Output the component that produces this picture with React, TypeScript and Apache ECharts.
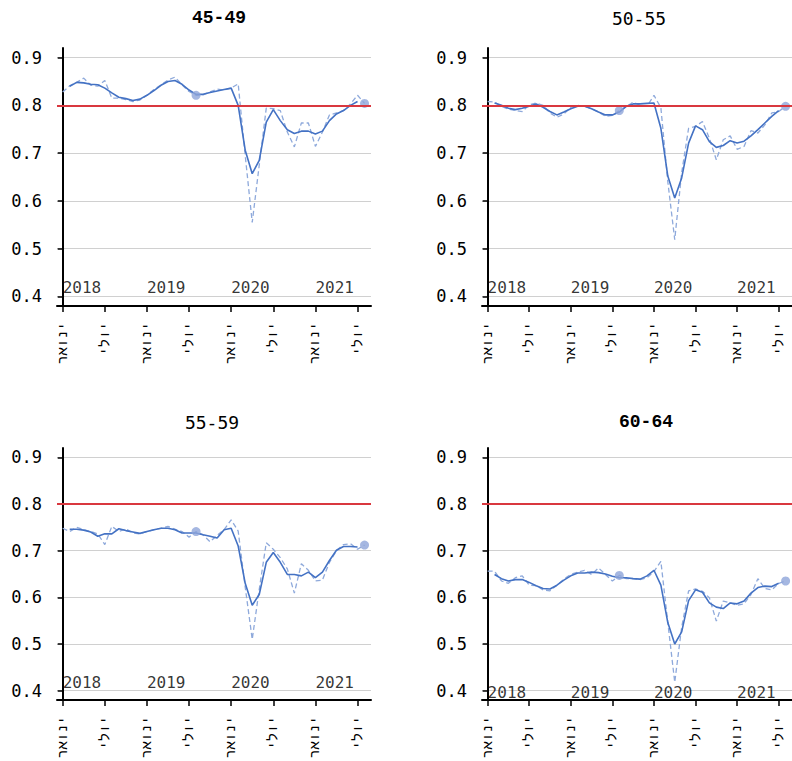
import React, { useEffect, useRef } from 'react';
import * as echarts from 'echarts';

// Months indexed from January 2018 (0) to August 2021 (43)
const years = ['2018', '2019', '2020', '2021'];
const tickMonths = [0, 6, 12, 18, 24, 30, 36, 42];
const yTicks = [0.4, 0.5, 0.6, 0.7, 0.8, 0.9];
const markerMonths = [19, 43];
const targetRate = 0.8;
const panelTitles = ['45-49', '50-55', '55-59', '60-64'];

// Monthly rate (dashed)
const raw4549 = [0.828, 0.841, 0.848, 0.857, 0.842, 0.840, 0.852, 0.815, 0.815, 0.812,
  0.808, 0.811, 0.821, 0.833, 0.843, 0.853, 0.859, 0.843, 0.829, 0.821,
  0.822, 0.828, 0.834, 0.832, 0.836, 0.845, 0.695, 0.555, 0.675, 0.794,
  0.793, 0.789, 0.744, 0.713, 0.763, 0.763, 0.714, 0.744, 0.780, 0.784,
  0.789, 0.803, 0.821, 0.804];
const raw5055 = [0.808, 0.807, 0.798, 0.792, 0.789, 0.787, 0.801, 0.805, 0.800, 0.784,
  0.775, 0.782, 0.796, 0.800, 0.798, 0.793, 0.786, 0.777, 0.779, 0.789,
  0.797, 0.807, 0.800, 0.798, 0.821, 0.795, 0.640, 0.519, 0.659, 0.752,
  0.756, 0.766, 0.731, 0.686, 0.728, 0.736, 0.708, 0.714, 0.747, 0.742,
  0.759, 0.784, 0.787, 0.798];
const raw5559 = [0.748, 0.741, 0.750, 0.745, 0.741, 0.736, 0.713, 0.752, 0.741, 0.747,
  0.738, 0.736, 0.741, 0.745, 0.748, 0.752, 0.746, 0.741, 0.729, 0.741,
  0.734, 0.719, 0.733, 0.745, 0.766, 0.742, 0.622, 0.510, 0.617, 0.717,
  0.703, 0.685, 0.661, 0.609, 0.672, 0.658, 0.635, 0.637, 0.675, 0.700,
  0.713, 0.715, 0.703, 0.712];
const raw6064 = [0.656, 0.656, 0.635, 0.630, 0.642, 0.646, 0.626, 0.625, 0.616, 0.614,
  0.626, 0.639, 0.649, 0.654, 0.658, 0.649, 0.663, 0.649, 0.635, 0.647,
  0.640, 0.640, 0.638, 0.642, 0.655, 0.677, 0.546, 0.418, 0.536, 0.614,
  0.618, 0.613, 0.599, 0.549, 0.592, 0.588, 0.583, 0.586, 0.606, 0.640,
  0.619, 0.616, 0.630, 0.635];

// 3-month centred average (solid), months 1..42
const trend4549 = [null, 0.840, 0.848, 0.847, 0.844, 0.843, 0.836, 0.826, 0.817, 0.814, 0.810,
  0.813, 0.821, 0.831, 0.842, 0.850, 0.852, 0.844, 0.832, 0.823, 0.823,
  0.827, 0.830, 0.833, 0.836, 0.800, 0.706, 0.657, 0.685, 0.765, 0.791,
  0.768, 0.749, 0.741, 0.746, 0.746, 0.740, 0.746, 0.768, 0.782, 0.789,
  0.800, 0.808, null];
const trend5055 = [null, 0.805, 0.800, 0.794, 0.791, 0.794, 0.798, 0.803, 0.796, 0.787, 0.780,
  0.786, 0.793, 0.798, 0.798, 0.793, 0.786, 0.780, 0.780, 0.786, 0.798,
  0.803, 0.803, 0.804, 0.805, 0.752, 0.652, 0.606, 0.648, 0.721, 0.757,
  0.749, 0.724, 0.712, 0.716, 0.726, 0.721, 0.725, 0.736, 0.749, 0.763,
  0.777, 0.789, null];
const trend5559 = [null, 0.746, 0.746, 0.744, 0.740, 0.731, 0.736, 0.736, 0.747, 0.743, 0.740,
  0.737, 0.741, 0.745, 0.748, 0.748, 0.745, 0.738, 0.738, 0.738, 0.734,
  0.731, 0.727, 0.745, 0.748, 0.710, 0.630, 0.583, 0.606, 0.675, 0.696,
  0.675, 0.649, 0.649, 0.646, 0.654, 0.642, 0.654, 0.679, 0.701, 0.709,
  0.709, 0.708, null];
const trend6064 = [null, 0.649, 0.640, 0.635, 0.638, 0.638, 0.632, 0.625, 0.619, 0.618, 0.626,
  0.637, 0.646, 0.652, 0.652, 0.654, 0.653, 0.650, 0.645, 0.642, 0.642,
  0.640, 0.639, 0.646, 0.658, 0.626, 0.546, 0.500, 0.526, 0.593, 0.616,
  0.611, 0.588, 0.579, 0.576, 0.588, 0.586, 0.592, 0.609, 0.621, 0.624,
  0.623, 0.630, null];

const rawSeries = [raw4549, raw5055, raw5559, raw6064];
const trendSeries = [trend4549, trend5055, trend5559, trend6064];

const layouts = [
  { left: 57, top: 48, tx: 219, ty: 18, font: 'Liberation Mono', bold: true, yearV: 0.418 },
  { left: 482, top: 48, tx: 639, ty: 18, font: 'DejaVu Sans Mono', bold: false, yearV: 0.418 },
  { left: 57, top: 448, tx: 212, ty: 422, font: 'DejaVu Sans Mono', bold: false, yearV: 0.418 },
  { left: 482, top: 448, tx: 646, ty: 422, font: 'Liberation Mono', bold: true, yearV: 0.395 },
];

const MONO = 'DejaVu Sans Mono';

export default function App() {
  const ref = useRef<HTMLDivElement>(null);
  useEffect(() => {
    const chart = echarts.init(ref.current as HTMLDivElement, null, { renderer: 'svg' });
    const grids: any[] = [];
    const xAxes: any[] = [];
    const yAxes: any[] = [];
    const series: any[] = [];
    const graphics: any[] = [];
    layouts.forEach((L, i) => {
      grids.push({ left: L.left, top: L.top, width: 314, height: 258, containLabel: false });
      xAxes.push({
        type: 'value', gridIndex: i, min: -0.81, max: 43.92,
        axisLine: { show: true, onZero: false, lineStyle: { color: '#000', width: 2 } },
        axisTick: { show: true, customValues: tickMonths, length: 6, lineStyle: { color: '#000', width: 1.5 } },
        axisLabel: {
          show: true, customValues: tickMonths, rotate: 90, margin: 16,
          formatter: (v: number) => (Math.round(v) % 12 === 0 ? 'ינואר' : 'יולי'),
          fontSize: 14, fontFamily: 'Liberation Mono', color: '#000',
        },
        splitLine: { show: false },
      });
      yAxes.push({
        type: 'value', gridIndex: i, min: 0.38, max: 0.92,
        axisLine: { show: true, lineStyle: { color: '#000', width: 2 } },
        axisTick: { show: true, customValues: yTicks, length: 5, lineStyle: { color: '#000', width: 1.5 } },
        axisLabel: {
          show: true, customValues: yTicks, margin: 15,
          formatter: (v: number) => v.toFixed(1),
          fontSize: 17, fontFamily: MONO, color: '#000',
        },
        splitLine: { show: true, lineStyle: { color: '#D0D0D0', width: 1 } },
      });
      const raw = rawSeries[i];
      const trend = trendSeries[i];
      series.push({
        type: 'line', xAxisIndex: i, yAxisIndex: i, z: 2,
        data: raw.map((v, k) => [k, v]),
        showSymbol: false, symbol: 'none',
        lineStyle: { color: '#8EA9DB', width: 1.3, type: [5, 3] },
        markLine: {
          silent: true, symbol: 'none', label: { show: false },
          lineStyle: { color: '#D9383F', width: 2, type: 'solid' },
          data: [{ yAxis: targetRate }],
        },
      });
      series.push({
        type: 'line', xAxisIndex: i, yAxisIndex: i, z: 3,
        data: trend.map((v, k) => [k, v]).filter((p) => p[1] !== null),
        showSymbol: false, symbol: 'none',
        lineStyle: { color: '#4472C4', width: 1.6 },
      });
      series.push({
        type: 'scatter', xAxisIndex: i, yAxisIndex: i, z: 4,
        data: markerMonths.map((m) => [m, raw[m]]),
        symbolSize: 9, itemStyle: { color: '#8FA5DA' },
      });
      series.push({
        type: 'scatter', xAxisIndex: i, yAxisIndex: i, z: 5, silent: true,
        data: years.map((_, k) => [k * 12, L.yearV]),
        symbolSize: 0,
        label: {
          show: true, position: 'right', distance: 0,
          formatter: (p: any) => years[p.dataIndex],
          fontSize: 16, fontFamily: MONO, color: '#000',
        },
      });
      graphics.push({
        type: 'text', x: L.tx, y: L.ty,
        style: {
          text: panelTitles[i], fill: '#000', align: 'center', verticalAlign: 'middle',
          fontFamily: L.font, fontWeight: L.bold ? 'bold' : 'normal', fontSize: 18,
        },
      });
    });
    chart.setOption({
      animation: false,
      backgroundColor: '#fff',
      grid: grids,
      xAxis: xAxes,
      yAxis: yAxes,
      series,
      graphic: graphics,
    });
    return () => chart.dispose();
  }, []);
  return (
    <div
      ref={ref}
      style={{ position: 'fixed', left: 0, top: 0, width: 792, height: 761, background: '#fff' }}
    />
  );
}
